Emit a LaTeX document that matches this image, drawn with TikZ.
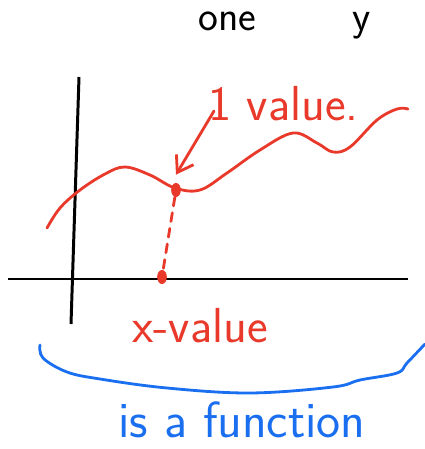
\documentclass[tikz,border=0pt]{standalone}
\usepackage{tikz}
\usetikzlibrary{arrows.meta, positioning, shapes.geometric}

\definecolor{penred}{HTML}{E8392A}
\definecolor{penblue}{HTML}{1A6EF0}

\begin{document}
\begin{tikzpicture}[
  x=0.02cm, y=-0.02cm,
  axis/.style={line width=1.7pt, black},
  pen/.style={line width=1.6pt, line cap=round, line join=round},
  note/.style={inner sep=0pt, font=\sffamily\fontsize{28}{32}\selectfont},
  head/.style={inner sep=0pt, text=black, font=\sffamily\fontsize{24}{28}\selectfont},
  dot/.style={ellipse, fill=penred, inner sep=0pt, minimum width=5.5pt, minimum height=8pt},
  arrow/.style={pen, penred, -{Straight Barb[length=3mm, width=4mm]}}
]
  \useasboundingbox (0,0) rectangle (425,449);

  % heading at the top edge
  \node[head, anchor=base west] (one) at (198,31) {one};
  \node[head, anchor=base west] (why) at (352,31) {y};

  % axes
  \draw[axis] (79,77) -- (71,324);
  \draw[axis] (8,279) -- (408,279);

  % the function
  \draw[pen, penred] plot[smooth, tension=0.6] coordinates {
    (47,228) (60,208) (80,190) (105,174) (125,167) (150,175) (175,188)
    (200,190) (227,173) (260,150) (293,133) (317,143) (333,152) (350,147)
    (377,120) (397,109) (408,109)};

  % one x, one y
  \node[dot] (pt) at (176,190) {};
  \node[dot] (xv) at (162,277) {};
  \draw[pen, penred, dashed, dash pattern=on 5pt off 4pt] (pt) -- (xv);

  % labels
  \node[note, text=penred, anchor=west] (val) at (208,104) {1 value.};
  \coordinate (tail) at (214,111);
  \draw[arrow] (tail) -- ([shift={(0,-8)}]pt.north);
  \node[note, text=penred] (xlab) at (200,326) {x-value};

  % brace
  \draw[pen, penblue] plot[smooth, tension=0.6] coordinates {
    (40,345) (43,358) (67,372) (100,379) (167,388) (250,393) (333,387)
    (360,380) (397,373) (407,363) (425,344)};
  \node[note, text=penblue, font=\sffamily\fontsize{29}{33}\selectfont] (fn) at (242,420) {is a function};
\end{tikzpicture}
\end{document}
